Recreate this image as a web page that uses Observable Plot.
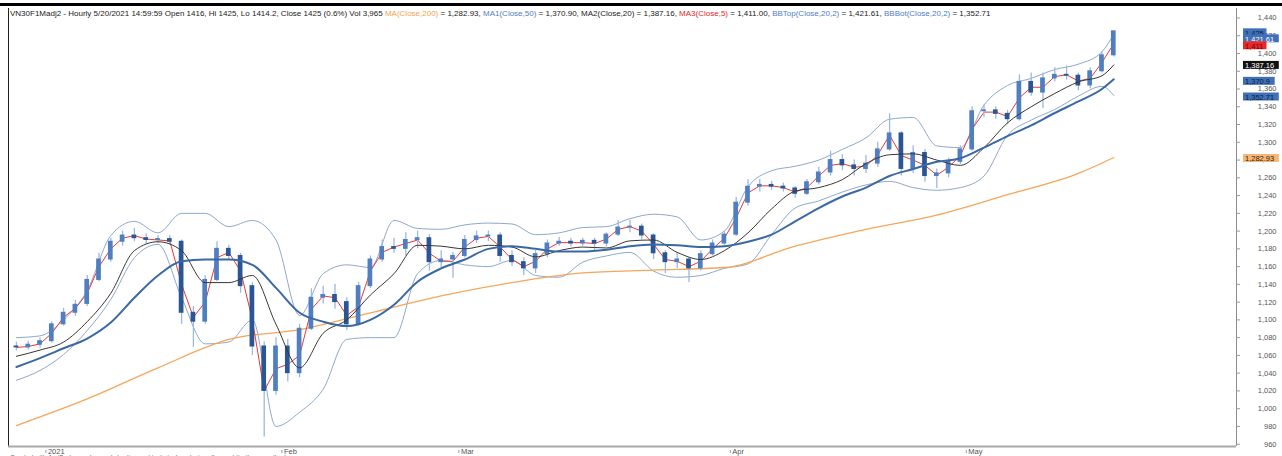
<!DOCTYPE html>
<html><head><meta charset="utf-8">
<script src="https://cdn.jsdelivr.net/npm/d3@7"></script>
<script src="https://cdn.jsdelivr.net/npm/@observablehq/plot@0.6"></script>
<style>
body{margin:0;background:#fff;overflow:hidden;width:1282px;height:456px;position:relative;font-family:"Liberation Sans",Arial,sans-serif}
#chart{position:absolute;left:0;top:0}
#topbar{position:absolute;left:0;top:3px;width:1282px;height:3px;background:#000}
#hdr{position:absolute;left:10px;top:9px;font-size:8px;color:#222;white-space:nowrap;line-height:10px}
#foot{position:absolute;left:10px;top:454px;font-size:6.5px;color:#666;white-space:nowrap;line-height:8px}
.o{color:#f0a452}.b{color:#4f7ec2}.r{color:#e0282a}
</style></head><body>
<div id="chart"></div>
<div id="topbar"></div>
<div id="hdr">VN30F1Madj2 - Hourly 5/20/2021 14:59:59 Open 1416, Hi 1425, Lo 1414.2, Close 1425 (0.6%) Vol 3,965 <span class="o">MA(Close,200)</span> = 1,282.93, <span class="b">MA1(Close,50)</span> = 1,370.90, MA2(Close,20) = 1,387.16, <span class="r">MA3(Close,5)</span> = 1,411.00, <span class="b">BBTop(Close,20,2)</span> = 1,421.61, <span class="b">BBBot(Close,20,2)</span> = 1,352.71</div>
<div id="foot">Created with AmiBroker - advanced charting and technical analysis software. http://www.amibroker.com</div>
<script>
// ---- price (one candle per trading day, index 0 = 29 Dec 2020) ----
const open  = [1070,1069,1072,1076,1095,1108,1118,1145,1168,1188,1195,1192,1190,1191,1188,1108,1098,1145,1180,1172,1138,1070,1020,1070,1040,1090,1125,1128,1120,1095,1138,1168,1182,1180,1190,1192,1165,1168,1172,1190,1194,1195,1172,1165,1158,1174,1186,1188,1186,1189,1186,1196,1204,1205,1195,1175,1165,1168,1158,1174,1186,1196,1232,1250,1252,1250,1248,1242,1255,1266,1280,1274,1270,1276,1292,1310,1270,1288,1262,1265,1278,1292,1335,1336,1332,1326,1368,1356,1372,1376,1375,1364,1380,1398];
const high  = [1075,1076,1080,1098,1113,1122,1150,1175,1192,1200,1203,1197,1195,1195,1190,1115,1150,1188,1184,1175,1142,1075,1080,1078,1095,1135,1138,1140,1125,1142,1172,1190,1192,1198,1200,1196,1178,1176,1195,1200,1200,1198,1178,1170,1178,1190,1193,1192,1192,1192,1198,1212,1212,1208,1197,1178,1176,1170,1178,1190,1200,1238,1258,1258,1256,1254,1250,1258,1272,1290,1286,1280,1285,1300,1332,1312,1296,1292,1270,1282,1296,1340,1342,1340,1336,1376,1378,1378,1384,1386,1378,1384,1402,1425];
const low   = [1065,1066,1068,1074,1093,1104,1115,1143,1165,1183,1188,1185,1186,1185,1095,1069,1095,1143,1168,1130,1060,968,1015,1030,1035,1088,1118,1112,1088,1093,1135,1165,1175,1172,1180,1155,1158,1147,1170,1186,1188,1165,1160,1150,1152,1170,1183,1182,1183,1178,1182,1194,1198,1190,1168,1152,1158,1142,1155,1172,1184,1194,1228,1244,1246,1244,1237,1240,1252,1262,1268,1262,1265,1272,1290,1262,1265,1255,1248,1260,1275,1290,1328,1326,1320,1324,1352,1338,1368,1370,1358,1360,1378,1396];
const close = [1069,1072,1076,1095,1108,1117,1145,1168,1188,1195,1192,1190,1191,1188,1108,1098,1145,1180,1172,1138,1070,1020,1070,1040,1090,1125,1128,1120,1095,1138,1168,1182,1180,1190,1192,1165,1168,1172,1190,1194,1195,1172,1165,1158,1174,1186,1188,1186,1189,1186,1196,1204,1205,1195,1175,1165,1168,1158,1174,1186,1196,1232,1250,1252,1250,1248,1242,1255,1266,1280,1274,1270,1276,1292,1310,1270,1288,1262,1265,1278,1292,1335,1336,1332,1326,1368,1356,1372,1376,1375,1364,1380,1398,1425];

// ---- indicator lines ----
const lineDays = [0,2,4,6,8,10,12,14,16,18,20,22,24,26,28,30,32,34,36,38,40,42,44,46,48,50,52,54,56,58,60,62,64,66,68,70,72,74,76,78,80,82,84,86,88,90,92,93];
const ma50  = [1047,1057,1068,1079,1097,1125,1150,1166,1168,1168,1162,1136,1108,1098,1093,1100,1117,1143,1158,1168,1180,1183,1180,1177,1177,1179,1183,1185,1184,1182,1183,1188,1196,1211,1226,1239,1249,1262,1270,1278,1282,1294,1307,1319,1333,1346,1360,1370.9];
const ma20  = [1059,1066,1075,1098,1130,1178,1188,1178,1142,1142,1150,1095,1046,1085,1100,1128,1152,1184,1183,1180,1184,1182,1171,1178,1182,1181,1189,1190,1176,1168,1178,1198,1225,1245,1249,1258,1276,1286,1287,1280,1274,1294,1322,1340,1355,1368,1375,1387.16];
const bbTop = [1080,1082,1100,1133,1195,1211,1198,1220,1220,1205,1212,1190,1105,1152,1162,1159,1212,1203,1202,1207,1209,1208,1196,1198,1204,1205,1214,1219,1216,1190,1200,1250,1268,1273,1280,1292,1305,1326,1328,1296,1294,1342,1364,1372,1382,1388,1402,1421.61];
const bbBot = [1032,1043,1061,1088,1123,1170,1185,1125,1073,1075,1100,980,996,1022,1078,1080,1080,1152,1167,1162,1160,1167,1150,1148,1165,1172,1176,1155,1148,1150,1158,1163,1196,1226,1234,1244,1252,1256,1249,1246,1249,1262,1308,1325,1337,1352,1363,1352.71];
const ma200Days = [0,6,12,18,24,30,36,42,48,54,60,66,72,78,84,90,93];
const ma200 = [981,1011,1046,1078,1089,1108,1127,1142,1153,1156,1159,1183,1202,1218,1241,1265,1282.93];
const ma5 = [1069,1070,1073,1085,1103,1113,1130,1160,1180,1192,1195,1191,1190,1189,1140,1103,1120,1170,1176,1155,1100,1020,1045,1050,1060,1112,1127,1125,1105,1115,1155,1176,1182,1186,1190,1175,1166,1166,1182,1192,1194,1182,1168,1160,1166,1180,1187,1187,1187,1186,1191,1202,1205,1200,1185,1168,1166,1160,1166,1180,1192,1215,1243,1251,1251,1249,1244,1249,1262,1274,1276,1272,1273,1286,1308,1285,1280,1274,1263,1272,1285,1315,1334,1334,1329,1350,1362,1362,1374,1376,1369,1372,1390,1411];

// ---- axes ----
const monthDays   = [3, 23, 38, 61, 81];
const monthLabels = ["2021", "Feb", "Mar", "Apr", "May"];
const yTicks = [960,980,1000,1020,1040,1060,1080,1100,1120,1140,1160,1180,1200,1220,1240,1260,1280,1300,1320,1340,1360,1380,1400,1420,1440];

// ---- last-value tags on the right ----
const tagValues = [1425, 1421.61, 1411, 1387.16, 1370.9, 1352.71, 1282.93];
const tagLabels = ["1,425", "1,421.61", "1,411", "1,387.16", "1,370.9", "1,352.71", "1,282.93"];

// styling / layout
const tagFill = ["#3f70b8","#3f70b8","#e52a2a","#111111","#3f70b8","#3f70b8","#f6b677"];
const tagText = ["#0d1f3f","#ffffff","#7a0000","#ffffff","#0d1f3f","#0d1f3f","#3a2200"];
const tagShift = [1.5, 4.5, 2, 0.5, 2, 1.5, 1];

const xMin = -0.67, xMax = 103.4, pxDay = 11.8;
const yMin = 957.4, yMax = 1450.7;

const bars = close.map((c, i) => ({i, o: open[i], h: high[i], l: low[i], c}));
const pts = (days, vals) => days.map((d, k) => ({d, v: vals[k]}));

const tagMarks = tagValues.flatMap((v, k) => {
  const x1 = xMax + 7 / pxDay;
  const w = tagLabels[k].length * 4.1 + 3;
  return [
    Plot.rect([v], {x1: () => x1, x2: () => x1 + w / pxDay, y1: d => d, y2: d => d,
      insetTop: -4, insetBottom: -4, fill: tagFill[k], dy: tagShift[k]}),
    Plot.text([v], {x: () => x1, y: d => d, text: () => tagLabels[k], textAnchor: "start",
      dx: 1.5, dy: tagShift[k] + 0.5, fontSize: 7.5, fill: tagText[k]})
  ];
});

const chart = Plot.plot({
  width: 1282, height: 456,
  marginTop: 8, marginBottom: 10, marginLeft: 8, marginRight: 46,
  x: {domain: [xMin, xMax], axis: null},
  y: {domain: [yMin, yMax], axis: null},
  style: {background: "transparent", fontFamily: "'Liberation Sans', Arial, sans-serif"},
  marks: [
    Plot.line(pts(lineDays, bbTop), {x: "d", y: "v", stroke: "#8ea8cc", strokeWidth: 1, curve: "monotone-x"}),
    Plot.line(pts(lineDays, bbBot), {x: "d", y: "v", stroke: "#8ea8cc", strokeWidth: 1, curve: "monotone-x"}),
    Plot.line(pts(ma200Days, ma200), {x: "d", y: "v", stroke: "#f5a65a", strokeWidth: 1.3, curve: "monotone-x"}),
    Plot.line(ma5.map((v, i) => ({d: i, v})), {x: "d", y: "v", stroke: "#e83a34", strokeWidth: 1}),
    Plot.ruleX(bars, {x: "i", y1: "l", y2: "h", stroke: "#9cb9de", strokeWidth: 1.3}),
    Plot.rect(bars, {x1: d => d.i - 0.2, x2: d => d.i + 0.2,
      y1: d => Math.min(d.o, d.c), y2: d => Math.max(d.o, d.c),
      insetTop: -0.5, insetBottom: -0.5,
      fill: d => d.c >= d.o ? "#4f7fc0" : "#2a5696"}),
    Plot.line(pts(lineDays, ma20), {x: "d", y: "v", stroke: "#3b3530", strokeWidth: 1, curve: "monotone-x"}),
    Plot.line(pts(lineDays, ma50), {x: "d", y: "v", stroke: "#3a68a6", strokeWidth: 2, curve: "monotone-x"}),
    // frame
    Plot.ruleX([xMin], {stroke: "#222", strokeWidth: 1}),
    Plot.ruleX([xMax], {stroke: "#8c8c8c", strokeWidth: 1}),
    Plot.ruleY([yMin], {stroke: "#a8a8a8", strokeWidth: 2}),
    // y axis ticks and labels (right)
    Plot.ruleY(yTicks, {x1: xMax, x2: xMax + 4 / pxDay, stroke: "#999"}),
    Plot.text(yTicks, {x: xMax, y: d => d, text: d => d3.format(",")(d), textAnchor: "end",
      dx: 40, fontSize: 7.5, fill: "#555"}),
    // x axis month ticks and labels
    Plot.ruleX(monthDays, {x: d => d - 0.5, y1: yMin, y2: yMin - 3 / 0.888, stroke: "#999", dy: 4}),
    Plot.text(monthDays, {x: d => d - 0.5, y: yMin, text: (d, i) => monthLabels[i], textAnchor: "start",
      dx: 2, dy: 5, fontSize: 7.5, fill: "#555"}),
    ...tagMarks
  ]
});
document.getElementById("chart").append(chart);
</script>
</body></html>
